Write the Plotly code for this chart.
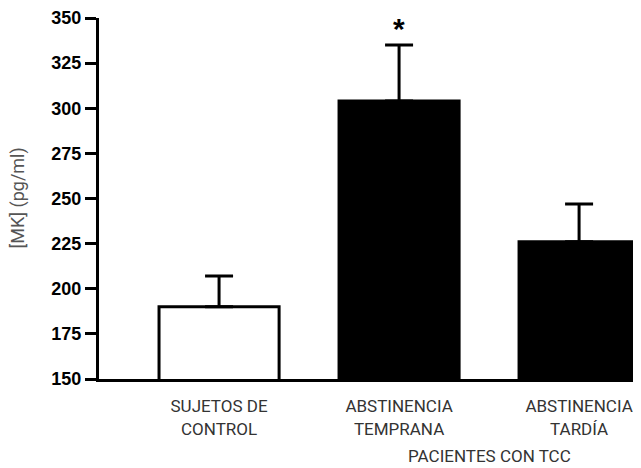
import plotly.graph_objects as go

categories = ["SUJETOS DE<br>CONTROL", "ABSTINENCIA<br>TEMPRANA", "ABSTINENCIA<br>TARDÍA"]
means = [190, 304, 226]
sem = [17, 31, 21]
fills = ["white", "black", "black"]
y_ticks = [150, 175, 200, 225, 250, 275, 300, 325, 350]
group_label = "PACIENTES CON TCC"
y_title = "[MK] (pg/ml)"

x_idx = list(range(len(categories)))

# page body has an 8px margin; size the figure so it fits the 641x468 window
W, H = 633, 460
ML, MR, MT, MB = 91, 0, 10, 89
plot_w = W - ML - MR
plot_h = H - MT - MB

fig = go.Figure()
fig.add_trace(go.Bar(
    x=x_idx, y=means, width=0.667,
    marker=dict(color=fills, line=dict(color="black", width=3)),
    error_y=dict(type="data", symmetric=False, array=sem, arrayminus=[0] * len(sem),
                 color="black", thickness=3, width=14),
    showlegend=False,
))

fig.add_annotation(x=1, y=means[1] + sem[1], xref="x", yref="y", text="<b>*</b>",
                   showarrow=False, yanchor="bottom", yshift=-2,
                   font=dict(family="Liberation Sans, Arial", size=30, color="black"))
fig.add_annotation(x=1.5, y=-(448 - (H - MB)) / plot_h, xref="x", yref="paper",
                   text=group_label, showarrow=False, yanchor="middle",
                   font=dict(family="Roboto", size=17, color="#333"))
fig.add_annotation(x=(9 - ML) / plot_w, y=0.5, xref="paper", yref="paper", text=y_title,
                   showarrow=False, textangle=-90, xanchor="center", yanchor="middle",
                   font=dict(family="Roboto", size=18, color="#555"))

fig.update_layout(
    width=W, height=H,
    margin=dict(l=ML, r=MR, t=MT, b=MB, autoexpand=False),
    plot_bgcolor="white", paper_bgcolor="white",
    bargap=0.333,
)
fig.update_xaxes(
    range=[-0.667, 2.344], tickvals=x_idx, ticktext=categories,
    showline=True, linecolor="black", linewidth=3, ticks="", showgrid=False,
    zeroline=False, ticklabelstandoff=10,
    tickfont=dict(family="Roboto", size=17, color="#333"),
)
fig.update_yaxes(
    range=[150, 350], tickvals=y_ticks,
    showline=True, linecolor="black", linewidth=3, ticks="outside", ticklen=11,
    tickwidth=3, tickcolor="black", showgrid=False, zeroline=False,
    tickfont=dict(family="Liberation Sans, Arial", size=18, color="black", weight="bold"),
)

fig.write_html("out.html")
